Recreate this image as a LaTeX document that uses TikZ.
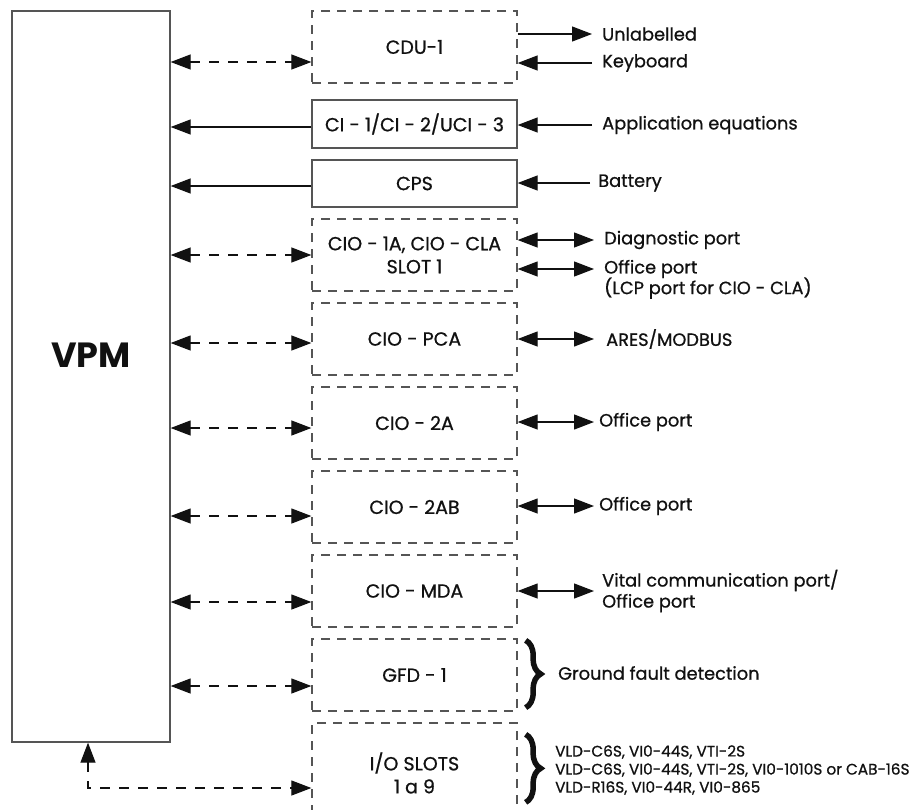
\documentclass[tikz,border=0pt]{standalone}
\usepackage{fontspec}
\setmainfont{Poppins}
\newfontfamily\labelfont{Poppins}[FakeBold=0.8]
\usepackage{tikz}
\usetikzlibrary{arrows.meta, positioning, calc, decorations.pathreplacing}
\definecolor{boxgray}{HTML}{555555}
\definecolor{inkblack}{HTML}{111111}

\tikzset{
  modbox/.style={draw=boxgray, line width=1.3pt, dash pattern=on 9pt off 7pt,
    minimum width=205pt, minimum height=72pt, inner sep=0pt, align=center,
    text=inkblack, font=\labelfont\fontsize{19}{23}\selectfont},
  solidbox/.style={modbox, solid},
  portlabel/.style={anchor=west, inner xsep=10pt, inner ysep=0pt, align=left,
    text=inkblack, font=\labelfont\fontsize{17.8}{21}\selectfont},
  linkarrow/.style={draw=inkblack, line width=1.2pt, -{Triangle[length=20pt,width=15pt]}},
  duplex/.style={draw=inkblack, line width=1.2pt,
    {Triangle[length=20pt,width=15pt]}-{Triangle[length=20pt,width=15pt]}},
  dashlink/.style={duplex, dash pattern=on 10pt off 9pt},
  groupbrace/.style={decorate, decoration={brace, amplitude=15pt, aspect=0.5}, line width=5.5pt, draw=inkblack}
}

\begin{document}
\begin{tikzpicture}[x=1pt, y=-1pt]
    \useasboundingbox (0,0) rectangle (923,809);

    % VPM
    \node[draw=boxgray, line width=1.3pt, minimum width=158pt, minimum height=731pt] (vpm) at (91,376.5) {};
    \node[text=inkblack, font=\fontsize{35}{40}\selectfont\bfseries] (vpmname) at (91,355) {VPM};

    % Modules
    \node[modbox] (cdu) at (414.5,47) {CDU-1};
    \node[solidbox, minimum height=48pt] (ci) at (414.5,124) {CI - 1/CI - 2/UCI - 3};
    \node[solidbox, minimum height=47pt] (cps) at (414.5,183.5) {CPS};
    \node[modbox] (cioa) at (414.5,255) {CIO - 1A, CIO - CLA\\SLOT 1};
    \node[modbox] (ciopca) at (414.5,339) {CIO - PCA};
    \node[modbox] (cio2a) at (414.5,423) {CIO - 2A};
    \node[modbox] (cio2ab) at (414.5,507) {CIO - 2AB};
    \node[modbox] (ciomda) at (414.5,591) {CIO - MDA};
    \node[modbox] (gfd) at (414.5,675) {GFD - 1};
    \node[modbox, minimum height=100pt] (ioslots) at (414.5,773) {I/O SLOTS\\1 a 9};

    % VPM side links
    \coordinate (cdu-in) at ([yshift=-15pt]cdu.west);
    \coordinate (ci-in) at ([yshift=-3pt]ci.west);
    \coordinate (cps-in) at ([yshift=-2.5pt]cps.west);
    \coordinate (pca-in) at ([yshift=-4pt]ciopca.west);
    \coordinate (cio2a-in) at ([yshift=-5pt]cio2a.west);
    \coordinate (cio2ab-in) at ([yshift=-9pt]cio2ab.west);
    \coordinate (mda-in) at ([yshift=-11pt]ciomda.west);
    \coordinate (gfd-in) at ([yshift=-11pt]gfd.west);
    \coordinate (io-in) at ([yshift=-15pt]ioslots.west);

    \draw[dashlink] (vpm.east |- cdu-in) -- (cdu-in);
    \draw[linkarrow] (ci-in) -- (vpm.east |- ci-in);
    \draw[linkarrow] (cps-in) -- (vpm.east |- cps-in);
    \draw[dashlink] (vpm.east |- cioa.west) -- (cioa.west);
    \draw[dashlink] (vpm.east |- pca-in) -- (pca-in);
    \draw[dashlink] (vpm.east |- cio2a-in) -- (cio2a-in);
    \draw[dashlink] (vpm.east |- cio2ab-in) -- (cio2ab-in);
    \draw[dashlink] (vpm.east |- mda-in) -- (mda-in);
    \draw[dashlink] (vpm.east |- gfd-in) -- (gfd-in);
    \draw[dashlink] ([xshift=-3pt]vpm.south) |- (io-in);

    % Outside ports
    \node[portlabel] (unlab) at (592,34) {Unlabelled};
    \node[portlabel] (kbd) at (592,63) {Keyboard};
    \node[portlabel] (appeq) at (592,125) {Application equations};
    \node[portlabel, inner xsep=8pt] (battery) at (590,183) {Battery};
    \node[portlabel] (diag) at (594,240) {Diagnostic port};
    \node[portlabel] (office) at (594,269) {Office port};
    \node[portlabel, anchor=north west] (lcpnote) at ([yshift=1pt]office.south west) {(LCP port for CIO - CLA)};
    \node[portlabel, inner xsep=12pt] (ares) at (594,339) {ARES/MODBUS};
    \node[portlabel, inner xsep=5pt] (office2a) at (594,422) {Office port};
    \node[portlabel, inner xsep=5pt] (office2ab) at (594,506) {Office port};
    \node[portlabel, inner xsep=8pt] (vital) at (594,591) {Vital communication port/\\Office port};

    \draw[linkarrow] (unlab.west -| cdu.east) -- (unlab.west);
    \draw[linkarrow] (kbd.west) -- (kbd.west -| cdu.east);
    \draw[linkarrow] (appeq.west) -- (appeq.west -| ci.east);
    \draw[linkarrow] (battery.west) -- (battery.west -| cps.east);
    \draw[duplex] (diag.west -| cioa.east) -- (diag.west);
    \draw[duplex] (office.west -| cioa.east) -- (office.west);
    \draw[duplex] (ares.west -| ciopca.east) -- (ares.west);
    \draw[duplex] (office2a.west -| cio2a.east) -- (office2a.west);
    \draw[duplex] (office2ab.west -| cio2ab.east) -- (office2ab.west);
    \draw[duplex] (vital.west -| ciomda.east) -- (vital.west);

    % Braces
    \draw[groupbrace] ([xshift=8pt,yshift=-2pt]gfd.north east) -- ([xshift=8pt,yshift=4pt]gfd.south east);
    \draw[groupbrace] ([xshift=8pt,yshift=-12pt]ioslots.north east) -- ([xshift=8pt,yshift=-80pt]ioslots.north east);
    \node[portlabel, inner xsep=0pt] (gfdnote) at (558,673) {Ground fault detection};
    \node[portlabel, inner xsep=0pt, font=\labelfont\fontsize{15.3}{18}\selectfont] (ionote) at (555,770)
        {VLD-C6S, VI0-44S, VTI-2S\\VLD-C6S, VI0-44S, VTI-2S, VI0-1010S or CAB-16S\\VLD-R16S, VI0-44R, VI0-865};
\end{tikzpicture}
\end{document}
